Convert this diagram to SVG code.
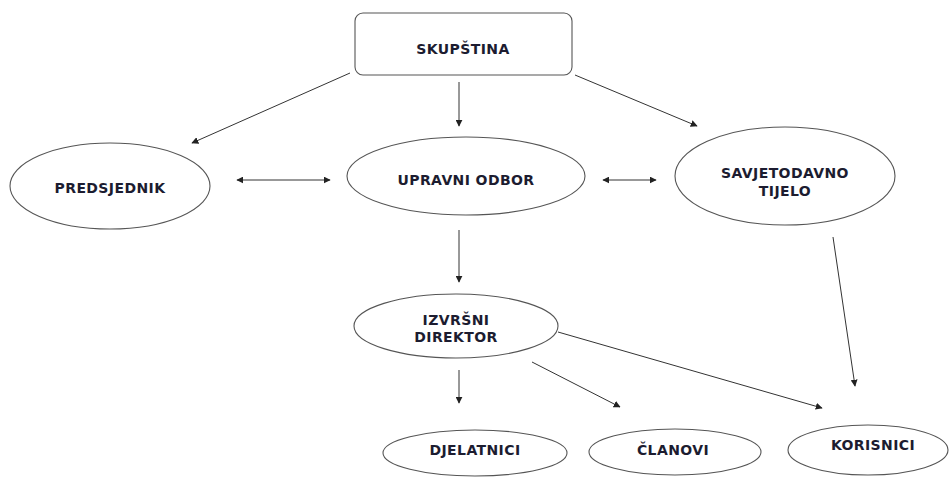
<svg xmlns="http://www.w3.org/2000/svg" width="950" height="477" viewBox="0 0 950 477">
<defs>
<marker id="ah" viewBox="0 0 10 10" refX="9" refY="5" markerWidth="7" markerHeight="7" markerUnits="userSpaceOnUse" orient="auto-start-reverse">
<path d="M0,0 L10,5 L0,10 z" fill="#222"/>
</marker>
</defs>
<style>
.n{fill:#fff;stroke:#555;stroke-width:1.1}
.t{font-family:"DejaVu Sans",Verdana,sans-serif;font-weight:bold;font-size:14px;fill:#1c1c30;text-anchor:middle;letter-spacing:0.4px}
.c{stroke:#333;stroke-width:1;fill:none;marker-end:url(#ah)}
.b{marker-start:url(#ah)}
</style>
<rect width="950" height="477" fill="#fff"/>
<g id="connectors">
<line class="c" x1="350" y1="73" x2="192" y2="143"/>
<line class="c" x1="459" y1="82" x2="459" y2="126"/>
<line class="c" x1="575" y1="75" x2="697" y2="126"/>
<line class="c b" x1="237" y1="180" x2="330" y2="180"/>
<line class="c b" x1="603" y1="180" x2="656" y2="180"/>
<line class="c" x1="459" y1="230" x2="459" y2="282"/>
<line class="c" x1="459" y1="370" x2="459" y2="403"/>
<line class="c" x1="532" y1="362" x2="620" y2="407"/>
<line class="c" x1="558" y1="332" x2="822" y2="408"/>
<line class="c" x1="833" y1="237" x2="855" y2="386"/>
</g>
<g id="skupstina"><rect class="n" x="355" y="13" width="217" height="62" rx="8"/><text class="t" x="463" y="54">SKUPŠTINA</text></g>
<g id="predsjednik"><ellipse class="n" cx="110" cy="186" rx="100" ry="43"/><text class="t" x="110" y="193">PREDSJEDNIK</text></g>
<g id="upravni"><ellipse class="n" cx="466" cy="176" rx="119" ry="39"/><text class="t" x="466" y="185">UPRAVNI ODBOR</text></g>
<g id="savjetodavno"><ellipse class="n" cx="785" cy="176" rx="110" ry="49"/><text class="t" x="785" y="178">SAVJETODAVNO</text><text class="t" x="785" y="196">TIJELO</text></g>
<g id="izvrsni"><ellipse class="n" cx="456" cy="326" rx="102" ry="32"/><text class="t" x="456" y="325">IZVRŠNI</text><text class="t" x="456" y="342">DIREKTOR</text></g>
<g id="djelatnici"><ellipse class="n" cx="475" cy="453" rx="92" ry="23"/><text class="t" x="475" y="455">DJELATNICI</text></g>
<g id="clanovi"><ellipse class="n" cx="675" cy="452" rx="86" ry="23"/><text class="t" x="673" y="455">ČLANOVI</text></g>
<g id="korisnici"><ellipse class="n" cx="868" cy="450" rx="80" ry="25"/><text class="t" x="873" y="450">KORISNICI</text></g>
</svg>
